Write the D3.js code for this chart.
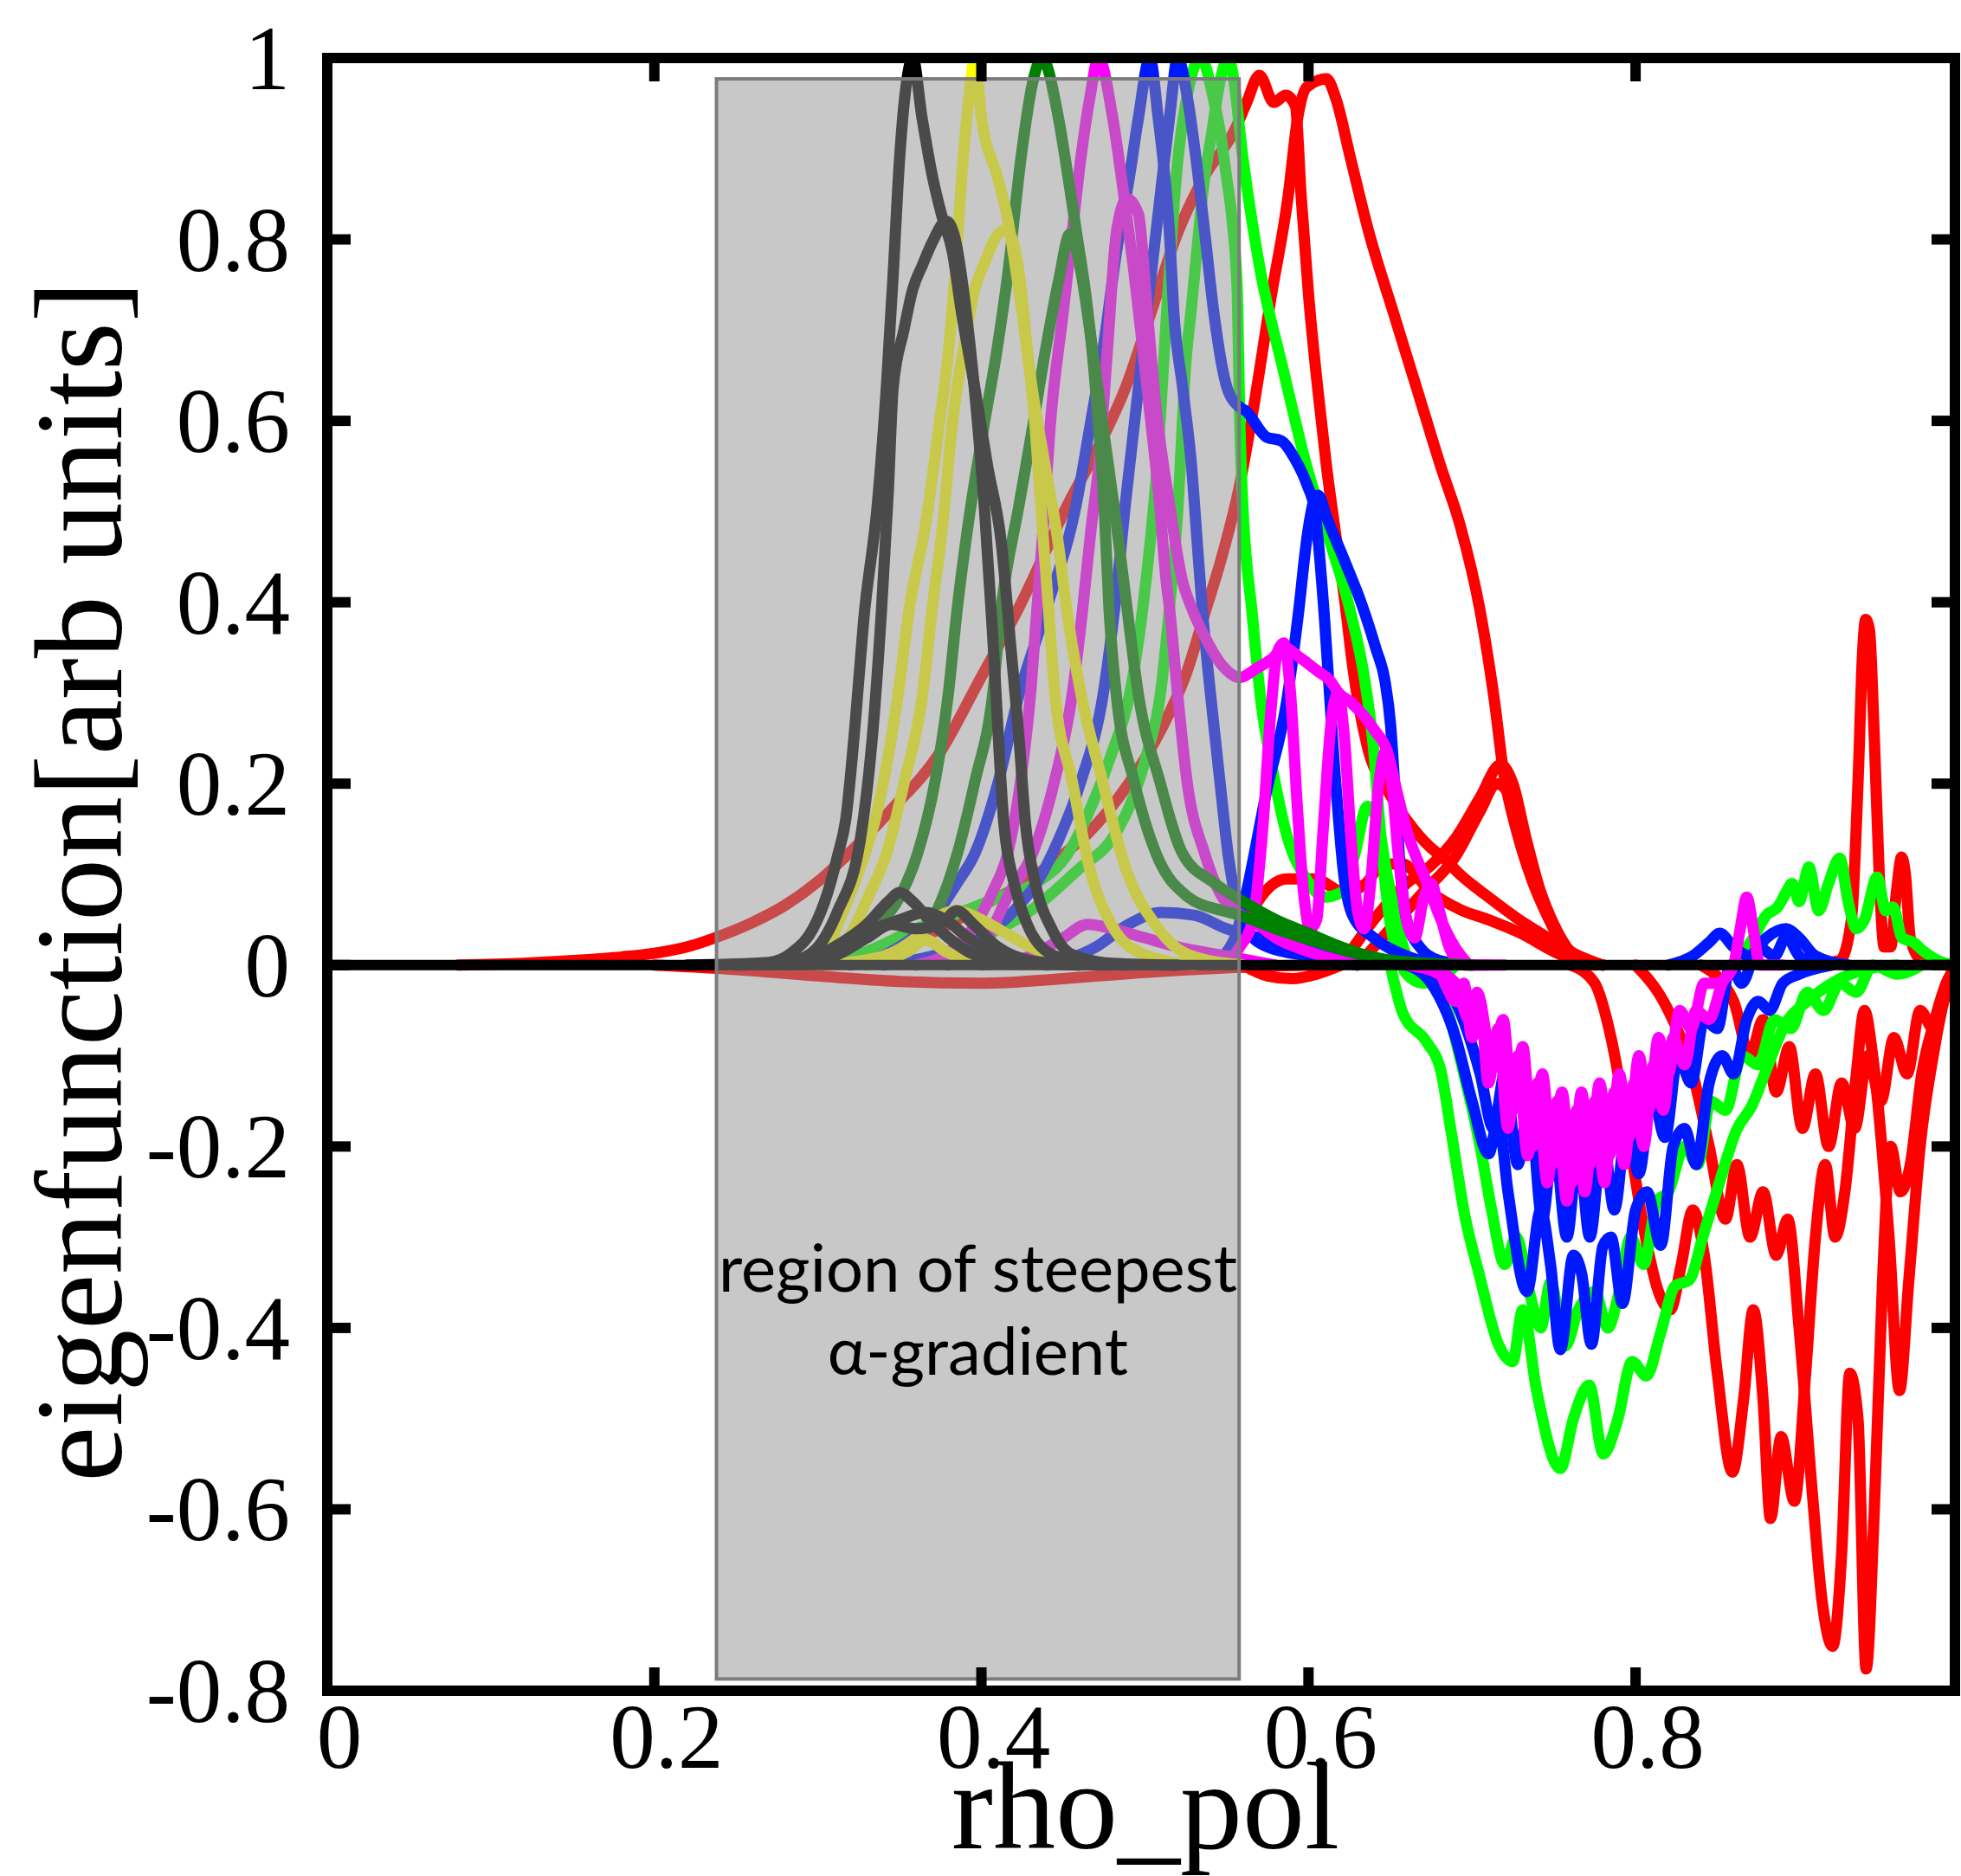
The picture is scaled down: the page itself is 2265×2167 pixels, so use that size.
<!DOCTYPE html>
<html>
<head>
<meta charset="utf-8">
<script src="https://cdn.jsdelivr.net/npm/d3@7"></script>
<style>
body { margin: 0; background: #fff; }
svg { display: block; }
</style>
</head>
<body>
<svg id="svg1" width="2265" height="2167"></svg>
<script>
// axis values
var xTicks = [0, 0.2, 0.4, 0.6, 0.8];
var xTickLabels = ['0', '0.2', '0.4', '0.6', '0.8'];
var yTicks = [-0.8, -0.6, -0.4, -0.2, 0, 0.2, 0.4, 0.6, 0.8, 1];
var yTickLabels = ['-0.8', '-0.6', '-0.4', '-0.2', '0', '0.2', '0.4', '0.6', '0.8', '1'];
var xDomain = [0, 0.9953];
var yDomain = [-0.8, 1];

// shaded region (rho_pol from / to, value from / to)
var shadeX = [0.238, 0.5576];
var shadeY = [-0.787, 0.977];

// eigenfunctions, [rho_pol, value]
var red1 = [[0.08,0],[0.12,0.002],[0.15,0.005],[0.18,0.009],[0.2,0.013],[0.22,0.02],[0.24,0.032],[0.26,0.047],[0.28,0.066],[0.3,0.092],[0.32,0.125],[0.3447,0.171],[0.3745,0.234],[0.3988,0.314],[0.4229,0.394],[0.4529,0.508],[0.4717,0.572],[0.488,0.636],[0.504,0.721],[0.52,0.807],[0.5365,0.87],[0.555,0.921],[0.562,0.95],[0.57,0.981],[0.5788,0.951],[0.5861,0.959],[0.592,0.947],[0.5955,0.848],[0.6,0.74],[0.606,0.63],[0.611,0.55],[0.617,0.47],[0.623,0.39],[0.627,0.33],[0.636,0.241],[0.6486,0.192],[0.6608,0.158],[0.675,0.129],[0.682,0.119],[0.6926,0.1],[0.71,0.075],[0.728,0.051],[0.7456,0.031],[0.7633,0.012],[0.78,0]];
var redLow = [[0.2,0],[0.25,-0.005],[0.3,-0.012],[0.35,-0.018],[0.4,-0.02],[0.45,-0.015],[0.5,-0.008],[0.55,-0.003],[0.6,0]];
var redLow2 = [[0.56,0],[0.575,-0.012],[0.59,-0.015],[0.605,-0.01],[0.62,0]];
var red2 = [[0.3,0],[0.35,0.02],[0.38,0.045],[0.403,0.068],[0.426,0.09],[0.445,0.115],[0.465,0.145],[0.49,0.2],[0.51,0.26],[0.525,0.32],[0.537,0.39],[0.547,0.45],[0.558,0.53],[0.566,0.61],[0.577,0.735],[0.5876,0.848],[0.5934,0.934],[0.599,0.968],[0.611,0.977],[0.6168,0.955],[0.6255,0.891],[0.6372,0.806],[0.6518,0.72],[0.6665,0.634],[0.681,0.549],[0.6927,0.485],[0.705,0.39],[0.7138,0.29],[0.719,0.216],[0.728,0.143],[0.7366,0.094],[0.7456,0.056],[0.7544,0.026],[0.7633,0.007],[0.78,0]];
var red3 = [[0.62,0],[0.64,0.05],[0.66,0.09],[0.675,0.11],[0.69,0.14],[0.705,0.185],[0.7174,0.221],[0.725,0.2],[0.733,0.14],[0.742,0.08],[0.752,0.035],[0.762,0.01],[0.78,0]];
var red4 = [[0.63,0],[0.65,0.04],[0.67,0.08],[0.69,0.12],[0.705,0.17],[0.715,0.2],[0.722,0.19],[0.73,0.15],[0.74,0.09],[0.75,0.045],[0.76,0.015],[0.775,0]];
var red5 = [[0.55,0],[0.56,0.03],[0.569,0.07],[0.587,0.095],[0.604,0.095],[0.622,0.08],[0.635,0.09],[0.645,0.11],[0.657,0.112],[0.675,0.08],[0.693,0.061],[0.71,0.05],[0.73,0.035],[0.75,0.015],[0.77,0]];
var redN1 = [[0.76,0],[0.775,-0.02],[0.785,-0.08],[0.795,-0.18],[0.805,-0.29],[0.814,-0.36],[0.8212,-0.38],[0.828,-0.33],[0.835,-0.27],[0.842,-0.32],[0.85,-0.45],[0.8592,-0.559],[0.866,-0.48],[0.872,-0.38],[0.878,-0.48],[0.8825,-0.61],[0.889,-0.52],[0.8971,-0.591],[0.904,-0.45],[0.91,-0.3],[0.916,-0.22],[0.922,-0.3],[0.928,-0.25],[0.935,-0.12],[0.94,-0.05],[0.945,-0.1],[0.955,-0.3],[0.9614,-0.469],[0.967,-0.35],[0.974,-0.2],[0.982,-0.1],[0.99,-0.03],[0.997,-0.01]];
var redN2 = [[0.8,0],[0.82,-0.05],[0.835,-0.12],[0.845,-0.2],[0.855,-0.28],[0.862,-0.22],[0.87,-0.3],[0.878,-0.25],[0.886,-0.32],[0.893,-0.28],[0.9,-0.4],[0.908,-0.58],[0.914,-0.7],[0.9205,-0.751],[0.926,-0.65],[0.931,-0.45],[0.936,-0.5],[0.941,-0.776],[0.946,-0.6],[0.951,-0.35],[0.956,-0.2],[0.962,-0.25],[0.968,-0.22],[0.975,-0.12],[0.983,-0.06],[0.99,-0.02],[0.997,0]];
var redN3 = [[0.84,0],[0.86,-0.04],[0.87,-0.1],[0.878,-0.06],[0.886,-0.14],[0.894,-0.09],[0.902,-0.18],[0.91,-0.12],[0.918,-0.2],[0.926,-0.13],[0.934,-0.18],[0.942,-0.1],[0.95,-0.15],[0.958,-0.08],[0.966,-0.12],[0.974,-0.05],[0.982,-0.07],[0.99,-0.02],[0.997,0]];
var redP = [[0.9,0],[0.925,0.005],[0.932,0.05],[0.936,0.2],[0.939,0.35],[0.9407,0.381],[0.943,0.37],[0.946,0.25],[0.949,0.1],[0.952,0.02],[0.956,0.02],[0.9595,0.08],[0.9627,0.119],[0.965,0.1],[0.968,0.03],[0.975,0.005],[0.99,0]];

var greenA = [[0.3,0],[0.33,0.015],[0.36,0.04],[0.39,0.06],[0.4122,0.076],[0.4339,0.091],[0.4529,0.123],[0.4663,0.171],[0.4798,0.234],[0.4906,0.298],[0.4987,0.394],[0.5074,0.55],[0.5144,0.75],[0.5197,0.88],[0.526,0.96],[0.534,1],[0.5425,0.95],[0.546,0.919],[0.5497,0.871],[0.5532,0.823],[0.5565,0.74],[0.558,0.6],[0.5595,0.52],[0.5656,0.387],[0.571,0.29],[0.578,0.216],[0.5868,0.143],[0.599,0.094],[0.6096,0.075],[0.62,0.08],[0.628,0.12],[0.636,0.175],[0.642,0.16],[0.648,0.1],[0.655,0.04],[0.662,0],[0.675,-0.02],[0.69,0]];
var greenB = [[0.36,0],[0.4,0.03],[0.43,0.06],[0.4609,0.108],[0.4798,0.139],[0.4933,0.187],[0.5014,0.234],[0.5094,0.298],[0.515,0.394],[0.52,0.5],[0.525,0.664],[0.5286,0.728],[0.532,0.792],[0.5356,0.855],[0.541,0.919],[0.546,0.975],[0.551,1],[0.5535,0.985],[0.5598,0.891],[0.57,0.771],[0.5846,0.656],[0.599,0.549],[0.6138,0.463],[0.6256,0.39],[0.6344,0.314],[0.6397,0.241],[0.643,0.168],[0.6467,0.094],[0.65,0.046],[0.655,0.01],[0.66,-0.01],[0.67,-0.02],[0.68,0]];
var greenN1 = [[0.65,0],[0.6577,-0.053],[0.6723,-0.085],[0.681,-0.117],[0.687,-0.181],[0.6957,-0.277],[0.7044,-0.341],[0.7161,-0.418],[0.7249,-0.437],[0.731,-0.38],[0.7395,-0.469],[0.754,-0.555],[0.762,-0.5],[0.7716,-0.463],[0.7803,-0.539],[0.7891,-0.501],[0.7979,-0.437],[0.8066,-0.453],[0.8154,-0.405],[0.8241,-0.354],[0.8329,-0.347],[0.8417,-0.296],[0.8504,-0.245],[0.862,-0.181],[0.8709,-0.156],[0.8796,-0.117],[0.8913,-0.066],[0.905,-0.04],[0.92,-0.02],[0.94,-0.005],[0.96,0]];
var greenN2 = [[0.67,0],[0.685,-0.05],[0.695,-0.12],[0.705,-0.2],[0.712,-0.27],[0.72,-0.33],[0.727,-0.3],[0.735,-0.36],[0.742,-0.4],[0.748,-0.35],[0.757,-0.42],[0.765,-0.38],[0.775,-0.36],[0.783,-0.4],[0.79,-0.36],[0.797,-0.3],[0.805,-0.33],[0.813,-0.26],[0.82,-0.25],[0.83,-0.2],[0.838,-0.22],[0.846,-0.15],[0.855,-0.16],[0.865,-0.1],[0.875,-0.11],[0.885,-0.06],[0.895,-0.07],[0.905,-0.03],[0.915,-0.05],[0.925,-0.02],[0.935,-0.03],[0.945,0],[0.96,-0.01],[0.975,0]];
var greenP = [[0.86,0],[0.872,0.03],[0.88,0.055],[0.887,0.064],[0.892,0.08],[0.8957,0.09],[0.9,0.07],[0.906,0.108],[0.912,0.06],[0.918,0.09],[0.9248,0.118],[0.93,0.07],[0.935,0.04],[0.94,0.05],[0.9477,0.097],[0.953,0.06],[0.9574,0.064],[0.963,0.03],[0.97,0.025],[0.975,0.017],[0.985,0.005],[0.995,0]];

var blueA = [[0.32,0],[0.35,0.02],[0.37,0.05],[0.385,0.09],[0.396,0.123],[0.41,0.2],[0.423,0.298],[0.44,0.394],[0.458,0.508],[0.4663,0.593],[0.4744,0.679],[0.4825,0.785],[0.4906,0.87],[0.496,0.934],[0.503,1],[0.5081,0.934],[0.5121,0.87],[0.515,0.807],[0.5176,0.721],[0.5231,0.636],[0.5285,0.55],[0.532,0.465],[0.535,0.394],[0.54,0.3],[0.546,0.2],[0.551,0.12],[0.556,0.07],[0.562,0.04],[0.575,0.02],[0.6,0.01],[0.63,0]];
var blueB = [[0.34,0],[0.37,0.01],[0.4,0.03],[0.42,0.06],[0.4339,0.091],[0.4474,0.139],[0.4609,0.203],[0.4744,0.298],[0.4825,0.41],[0.488,0.508],[0.4933,0.593],[0.4987,0.679],[0.504,0.764],[0.5094,0.849],[0.515,0.934],[0.52,1],[0.526,0.956],[0.5311,0.891],[0.5366,0.807],[0.542,0.721],[0.5503,0.636],[0.558,0.615],[0.5616,0.611],[0.5744,0.582],[0.5832,0.578],[0.592,0.557],[0.599,0.53],[0.604,0.5],[0.6096,0.387],[0.615,0.241],[0.622,0.094],[0.627,0.055],[0.64,0.03],[0.66,0.01],[0.68,0]];
var blueC = [[0.54,0],[0.555,0.03],[0.562,0.08],[0.5744,0.192],[0.5866,0.29],[0.5938,0.387],[0.599,0.47],[0.603,0.51],[0.606,0.518],[0.611,0.494],[0.622,0.446],[0.6327,0.397],[0.6414,0.348],[0.6467,0.314],[0.6502,0.265],[0.653,0.19],[0.656,0.11],[0.66,0.05],[0.668,0.02],[0.68,0.005],[0.7,0]];
var blueS = [[0.44,0],[0.47,0.02],[0.49,0.045],[0.51,0.058],[0.53,0.055],[0.55,0.04],[0.57,0.03],[0.6,0.02],[0.63,0.01],[0.66,0]];
var blueN1 = [[0.66,0],[0.675,-0.02],[0.69,-0.08],[0.7,-0.15],[0.7102,-0.208],[0.716,-0.17],[0.722,-0.25],[0.7336,-0.36],[0.742,-0.27],[0.748,-0.33],[0.754,-0.424],[0.762,-0.32],[0.767,-0.34],[0.773,-0.418],[0.78,-0.31],[0.785,-0.3],[0.792,-0.373],[0.8,-0.27],[0.807,-0.25],[0.8154,-0.309],[0.823,-0.2],[0.83,-0.18],[0.837,-0.22],[0.845,-0.13],[0.853,-0.1],[0.86,-0.12],[0.868,-0.06],[0.875,-0.04],[0.882,-0.05],[0.89,-0.02],[0.9,-0.01],[0.92,0]];
var blueN2 = [[0.67,0],[0.69,-0.04],[0.705,-0.12],[0.713,-0.18],[0.72,-0.12],[0.728,-0.22],[0.735,-0.15],[0.743,-0.28],[0.75,-0.19],[0.758,-0.3],[0.765,-0.2],[0.772,-0.3],[0.78,-0.19],[0.787,-0.27],[0.795,-0.17],[0.802,-0.23],[0.81,-0.14],[0.818,-0.19],[0.826,-0.1],[0.834,-0.13],[0.842,-0.06],[0.85,-0.07],[0.858,0],[0.865,-0.02],[0.875,0.02],[0.885,0.01],[0.8921,0.031],[0.9,0.01],[0.91,0]];
var blueP = [[0.82,0],[0.835,0.01],[0.845,0.025],[0.8515,0.035],[0.86,0.02],[0.87,0.01],[0.88,0.03],[0.8921,0.04],[0.9,0.03],[0.91,0.01],[0.93,0]];

var magentaA = [[0.36,0],[0.385,0.02],[0.4069,0.081],[0.416,0.123],[0.424,0.203],[0.43,0.298],[0.434,0.394],[0.438,0.487],[0.442,0.593],[0.4501,0.721],[0.4555,0.807],[0.4609,0.891],[0.4663,0.956],[0.4716,1],[0.4803,0.934],[0.487,0.85],[0.4933,0.764],[0.4987,0.679],[0.504,0.593],[0.509,0.508],[0.513,0.423],[0.515,0.394],[0.52,0.298],[0.5257,0.203],[0.5365,0.123],[0.5473,0.075],[0.5553,0.06],[0.565,0.05],[0.58,0.03],[0.6,0.015],[0.63,0]];
var magentaB = [[0.38,0],[0.4,0.02],[0.4176,0.081],[0.4313,0.123],[0.4447,0.203],[0.4555,0.298],[0.462,0.394],[0.467,0.48],[0.4717,0.55],[0.4771,0.679],[0.4825,0.807],[0.489,0.845],[0.496,0.828],[0.5014,0.721],[0.5068,0.614],[0.515,0.508],[0.523,0.423],[0.5285,0.394],[0.5366,0.362],[0.5474,0.33],[0.558,0.317],[0.569,0.328],[0.578,0.338],[0.585,0.35],[0.5955,0.338],[0.605,0.325],[0.613,0.314],[0.6185,0.3],[0.6256,0.29],[0.64,0.26],[0.649,0.231],[0.654,0.192],[0.661,0.143],[0.6715,0.095],[0.682,0.046],[0.6926,0.012],[0.7,0],[0.72,0]];
var magentaC = [[0.545,0],[0.558,0.02],[0.566,0.05],[0.572,0.15],[0.577,0.28],[0.581,0.345],[0.585,0.355],[0.589,0.3],[0.593,0.18],[0.597,0.08],[0.601,0.04],[0.605,0.05],[0.609,0.15],[0.614,0.27],[0.618,0.3],[0.622,0.25],[0.626,0.14],[0.63,0.06],[0.634,0.04],[0.638,0.09],[0.643,0.2],[0.647,0.235],[0.651,0.2],[0.655,0.12],[0.66,0.05],[0.665,0.03],[0.67,0.07],[0.675,0.09],[0.68,0.06],[0.686,0.02],[0.695,0],[0.71,0]];
var magentaS = [[0.4,0],[0.43,0.01],[0.45,0.03],[0.465,0.045],[0.48,0.04],[0.5,0.03],[0.52,0.02],[0.55,0.01],[0.58,0]];
var magentaN1 = [[0.66,0],[0.68,-0.01],[0.69,-0.04],[0.695,-0.02],[0.7,-0.08],[0.705,-0.04],[0.71,-0.13],[0.716,-0.07],[0.722,-0.18],[0.728,-0.1],[0.734,-0.21],[0.74,-0.13],[0.746,-0.24],[0.752,-0.15],[0.758,-0.26],[0.764,-0.16],[0.769,-0.25],[0.775,-0.15],[0.781,-0.24],[0.787,-0.14],[0.793,-0.22],[0.799,-0.13],[0.805,-0.2],[0.811,-0.11],[0.817,-0.16],[0.823,-0.08],[0.83,-0.11],[0.837,-0.05],[0.845,-0.06],[0.853,-0.02],[0.86,0],[0.864,0.04],[0.868,0.075],[0.872,0.04],[0.876,0],[0.89,0]];
var magentaN2 = [[0.67,0],[0.69,-0.02],[0.698,-0.06],[0.703,-0.03],[0.713,-0.11],[0.719,-0.06],[0.725,-0.16],[0.731,-0.09],[0.737,-0.2],[0.743,-0.12],[0.749,-0.22],[0.755,-0.14],[0.761,-0.24],[0.767,-0.14],[0.772,-0.22],[0.778,-0.13],[0.784,-0.21],[0.79,-0.12],[0.796,-0.19],[0.802,-0.1],[0.808,-0.16],[0.814,-0.08],[0.82,-0.12],[0.827,-0.05],[0.834,-0.07],[0.842,-0.02],[0.85,-0.02],[0.86,0]];

var dkgreenA = [[0.3,0],[0.32,0.02],[0.3365,0.044],[0.3503,0.076],[0.361,0.123],[0.3717,0.203],[0.3797,0.298],[0.3853,0.394],[0.392,0.487],[0.4014,0.593],[0.4096,0.679],[0.4163,0.764],[0.4243,0.891],[0.431,0.97],[0.437,1],[0.4471,0.934],[0.4529,0.87],[0.4582,0.807],[0.4636,0.742],[0.4676,0.679],[0.4717,0.593],[0.475,0.508],[0.478,0.394],[0.4825,0.298],[0.4933,0.203],[0.5068,0.123],[0.5257,0.076],[0.5473,0.06],[0.558,0.055],[0.58,0.04],[0.604,0.026],[0.631,0.012],[0.66,0.003],[0.7,0]];
var dkgreenB = [[0.33,0],[0.355,0.02],[0.37,0.05],[0.3853,0.123],[0.3961,0.203],[0.4069,0.298],[0.4122,0.394],[0.4231,0.508],[0.4313,0.593],[0.4393,0.679],[0.4474,0.756],[0.4541,0.806],[0.4609,0.764],[0.4663,0.7],[0.4744,0.593],[0.4825,0.487],[0.489,0.394],[0.496,0.298],[0.509,0.203],[0.523,0.123],[0.542,0.091],[0.56,0.07],[0.58,0.05],[0.6,0.035],[0.62,0.02],[0.65,0.005],[0.7,0]];

var yellowA = [[0.27,0],[0.29,0.004],[0.304,0.012],[0.312,0.044],[0.326,0.108],[0.3365,0.171],[0.349,0.298],[0.356,0.394],[0.366,0.487],[0.374,0.593],[0.38,0.679],[0.384,0.764],[0.388,0.87],[0.392,0.95],[0.396,1],[0.4,0.935],[0.4096,0.87],[0.416,0.823],[0.424,0.73],[0.431,0.636],[0.439,0.55],[0.447,0.465],[0.452,0.394],[0.461,0.298],[0.474,0.203],[0.488,0.108],[0.507,0.043],[0.526,0.012],[0.56,0]];
var yellowB = [[0.28,0],[0.304,0.007],[0.32,0.034],[0.331,0.076],[0.342,0.123],[0.353,0.203],[0.364,0.298],[0.37,0.394],[0.376,0.48],[0.382,0.593],[0.391,0.7],[0.396,0.746],[0.4015,0.772],[0.408,0.8],[0.415,0.811],[0.423,0.764],[0.428,0.68],[0.433,0.59],[0.437,0.49],[0.441,0.394],[0.445,0.298],[0.4555,0.203],[0.466,0.108],[0.48,0.043],[0.499,0.012],[0.53,0]];
var yellowC = [[0.3,0],[0.34,0.01],[0.36,0.03],[0.375,0.055],[0.385,0.06],[0.4,0.05],[0.415,0.035],[0.43,0.02],[0.45,0.008],[0.48,0]];
var yellowD = [[0.33,0],[0.355,0.015],[0.366,0.028],[0.378,0.015],[0.4,0.003],[0.43,0]];

var blackA = [[0.22,0],[0.27,0.003],[0.285,0.015],[0.297,0.04],[0.306,0.08],[0.312,0.12],[0.317,0.16],[0.323,0.27],[0.328,0.38],[0.3365,0.51],[0.342,0.64],[0.346,0.76],[0.35,0.89],[0.354,0.97],[0.358,1],[0.3637,0.934],[0.37,0.87],[0.3755,0.828],[0.3824,0.785],[0.3877,0.721],[0.396,0.636],[0.4038,0.55],[0.4122,0.465],[0.418,0.35],[0.423,0.25],[0.427,0.155],[0.433,0.09],[0.443,0.04],[0.455,0.012],[0.48,0.002],[0.52,0]];
var blackB = [[0.25,0],[0.285,0.005],[0.299,0.018],[0.312,0.059],[0.326,0.139],[0.334,0.266],[0.339,0.394],[0.343,0.52],[0.346,0.636],[0.3526,0.7],[0.358,0.745],[0.364,0.772],[0.37,0.797],[0.3786,0.82],[0.384,0.8],[0.39,0.73],[0.396,0.63],[0.402,0.5],[0.407,0.36],[0.4138,0.155],[0.42,0.09],[0.428,0.045],[0.44,0.015],[0.46,0.003],[0.49,0]];
var blackC = [[0.25,0],[0.29,0.005],[0.31,0.02],[0.33,0.045],[0.343,0.07],[0.35,0.08],[0.358,0.07],[0.368,0.05],[0.38,0.03],[0.395,0.012],[0.42,0.003],[0.46,0]];
var blackD = [[0.27,0],[0.3,0.008],[0.32,0.025],[0.335,0.04],[0.35,0.05],[0.366,0.058],[0.378,0.05],[0.392,0.03],[0.41,0.012],[0.44,0.002],[0.48,0]];
var blackE = [[0.28,0],[0.31,0.01],[0.33,0.03],[0.345,0.045],[0.36,0.04],[0.375,0.045],[0.385,0.06],[0.395,0.045],[0.41,0.02],[0.43,0.005],[0.46,0]];

var RED = '#ff0000', GREEN = '#00ff00', BLUE = '#0018ff', MAGENTA = '#ff00ff',
    DKGREEN = '#008000', YELLOW = '#ffff00', BLACK = '#000000';

// drawing order, bottom first
var series = [
    {pts: red1, color: RED}, {pts: redLow, color: RED}, {pts: redLow2, color: RED},
    {pts: red2, color: RED}, {pts: red3, color: RED}, {pts: red4, color: RED}, {pts: red5, color: RED},
    {pts: redN1, color: RED}, {pts: redN2, color: RED}, {pts: redN3, color: RED}, {pts: redP, color: RED},
    {pts: greenA, color: GREEN}, {pts: greenB, color: GREEN}, {pts: greenN1, color: GREEN},
    {pts: greenN2, color: GREEN}, {pts: greenP, color: GREEN},
    {pts: blueA, color: BLUE}, {pts: blueB, color: BLUE}, {pts: blueC, color: BLUE}, {pts: blueS, color: BLUE},
    {pts: blueN1, color: BLUE}, {pts: blueN2, color: BLUE}, {pts: blueP, color: BLUE},
    {pts: magentaA, color: MAGENTA}, {pts: magentaB, color: MAGENTA}, {pts: magentaC, color: MAGENTA},
    {pts: magentaS, color: MAGENTA}, {pts: magentaN1, color: MAGENTA}, {pts: magentaN2, color: MAGENTA},
    {pts: dkgreenA, color: DKGREEN}, {pts: dkgreenB, color: DKGREEN},
    {pts: yellowA, color: YELLOW}, {pts: yellowB, color: YELLOW}, {pts: yellowC, color: YELLOW}, {pts: yellowD, color: YELLOW},
    {pts: blackA, color: BLACK}, {pts: blackB, color: BLACK}, {pts: blackC, color: BLACK},
    {pts: blackD, color: BLACK}, {pts: blackE, color: BLACK}
];

var svg = d3.select('#svg1');

var x = d3.scaleLinear().domain(xDomain).range([378, 2258]);
var y = d3.scaleLinear().domain(yDomain).range([1953, 67]);

var x0 = x(xDomain[0]), x1 = x(xDomain[1]);
var yTop = y(yDomain[1]), yBot = y(yDomain[0]);

svg.append('defs').append('clipPath').attr('id', 'plotClip')
    .append('rect')
    .attr('x', x0).attr('y', yTop)
    .attr('width', x1 - x0).attr('height', yBot - yTop);

var line = d3.line()
    .x(function(d) { return x(d[0]); })
    .y(function(d) { return y(d[1]); })
    .curve(d3.curveMonotoneX);

var plot = svg.append('g').attr('clip-path', 'url(#plotClip)');

plot.selectAll('path.curve')
    .data(series)
    .enter()
    .append('path')
    .attr('class', 'curve')
    .attr('d', function(d) { return line(d.pts); })
    .attr('fill', 'none')
    .attr('stroke', function(d) { return d.color; })
    .attr('stroke-width', 13)
    .attr('stroke-linejoin', 'round')
    .attr('stroke-linecap', 'round');

// zero line
plot.append('line')
    .attr('x1', x0).attr('x2', x1)
    .attr('y1', y(0)).attr('y2', y(0))
    .attr('stroke', '#000')
    .attr('stroke-width', 12);

// shaded region, drawn over the curves
svg.append('rect')
    .attr('x', x(shadeX[0]))
    .attr('y', y(shadeY[1]))
    .attr('width', x(shadeX[1]) - x(shadeX[0]))
    .attr('height', y(shadeY[0]) - y(shadeY[1]))
    .attr('fill', 'rgb(146,146,146)')
    .attr('fill-opacity', 0.506)
    .attr('stroke', '#7c7c7c')
    .attr('stroke-width', 4);

svg.append('text')
    .attr('x', x((shadeX[0] + shadeX[1]) / 2))
    .attr('y', 1492)
    .attr('text-anchor', 'middle')
    .attr('font-family', 'Lato, "Open Sans", sans-serif')
    .attr('font-size', 76)
    .attr('fill', '#000')
    .text('region of steepest');

svg.append('text')
    .attr('x', x((shadeX[0] + shadeX[1]) / 2))
    .attr('y', 1588)
    .attr('text-anchor', 'middle')
    .attr('font-family', 'Lato, "Open Sans", sans-serif')
    .attr('font-size', 76)
    .attr('fill', '#000')
    .text('\u03b1-gradient');

// frame and inward ticks on all four sides
var frame = svg.append('g');
var tickLen = 27;

frame.append('rect')
    .attr('x', x0).attr('y', yTop)
    .attr('width', x1 - x0).attr('height', yBot - yTop)
    .attr('fill', 'none')
    .attr('stroke', '#000')
    .attr('stroke-width', 12);

xTicks.slice(1).forEach(function(v) {
    frame.append('line').attr('x1', x(v)).attr('x2', x(v))
        .attr('y1', yBot).attr('y2', yBot - tickLen)
        .attr('stroke', '#000').attr('stroke-width', 12);
    frame.append('line').attr('x1', x(v)).attr('x2', x(v))
        .attr('y1', yTop).attr('y2', yTop + tickLen)
        .attr('stroke', '#000').attr('stroke-width', 12);
});

yTicks.slice(1, -1).forEach(function(v) {
    frame.append('line').attr('x1', x0).attr('x2', x0 + tickLen)
        .attr('y1', y(v)).attr('y2', y(v))
        .attr('stroke', '#000').attr('stroke-width', 12);
    frame.append('line').attr('x1', x1).attr('x2', x1 - tickLen)
        .attr('y1', y(v)).attr('y2', y(v))
        .attr('stroke', '#000').attr('stroke-width', 12);
});

// tick labels
svg.selectAll('text.ylab')
    .data(yTicks)
    .enter()
    .append('text')
    .attr('class', 'ylab')
    .attr('x', 335)
    .attr('y', function(d) { return y(d) + 36; })
    .attr('text-anchor', 'end')
    .attr('font-family', '"Liberation Serif", "Times New Roman", serif')
    .attr('font-size', 105)
    .text(function(d, i) { return yTickLabels[i]; });

svg.selectAll('text.xlab')
    .data(xTicks)
    .enter()
    .append('text')
    .attr('class', 'xlab')
    .attr('x', function(d) { return x(d) + 14; })
    .attr('y', 2042)
    .attr('text-anchor', 'middle')
    .attr('font-family', '"Liberation Serif", "Times New Roman", serif')
    .attr('font-size', 105)
    .text(function(d, i) { return xTickLabels[i]; });

// axis titles
svg.append('text')
    .attr('x', 1323)
    .attr('y', 2135)
    .attr('text-anchor', 'middle')
    .attr('font-family', '"Liberation Serif", "Times New Roman", serif')
    .attr('font-size', 144)
    .text('rho_pol');

svg.append('text')
    .attr('transform', 'translate(140,1018) rotate(-90)')
    .attr('text-anchor', 'middle')
    .attr('font-family', '"Liberation Serif", "Times New Roman", serif')
    .attr('font-size', 144)
    .text('eigenfunction[arb units]');
</script>
</body>
</html>
